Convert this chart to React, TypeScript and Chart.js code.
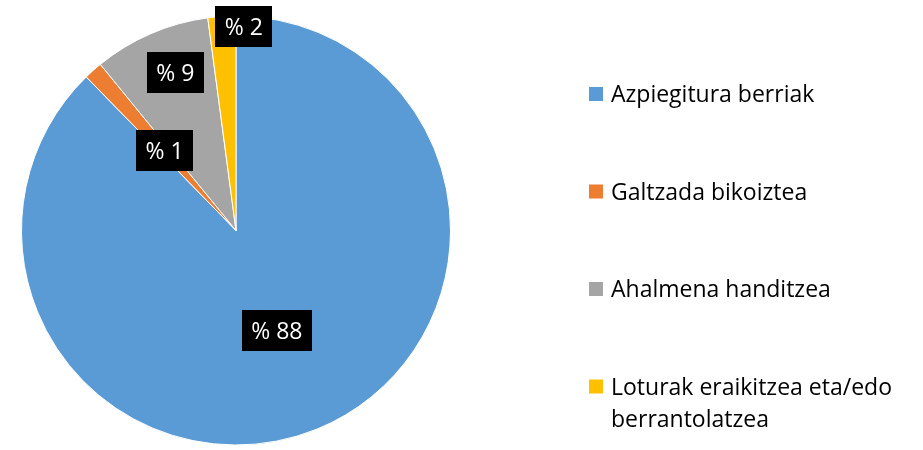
import React, { useEffect, useRef } from "react";
import { Chart, registerables } from "chart.js";

Chart.register(...registerables);

const categories = [
  "Azpiegitura berriak",
  "Galtzada bikoiztea",
  "Ahalmena handitzea",
  "Loturak eraikitzea eta/edo berrantolatzea",
];
const shares = [87.7, 1.4, 8.8, 2.1];
const colors = ["#5B9BD5", "#ED7D31", "#A5A5A5", "#FFC000"];

const FONT = '"Open Sans", sans-serif';
const FONT_SIZE = 23;

// label placement: fraction of radius, angular tweak (degrees, clockwise)
const labelPlacement = [
  { r: 0.505, da: 0 },
  { r: 0.5, da: 0 },
  { r: 0.79, da: 2.4 },
  { r: 0.95, da: 6 },
];

const valueLabelPlugin = {
  id: "valueLabels",
  afterDatasetsDraw(chart: any) {
    const ctx = chart.ctx;
    const meta = chart.getDatasetMeta(0);
    ctx.save();
    ctx.font = `${FONT_SIZE}px ${FONT}`;
    ctx.textBaseline = "alphabetic";
    ctx.textAlign = "center";
    meta.data.forEach((arc: any, i: number) => {
      const { x, y, startAngle, endAngle, outerRadius } = arc.getProps(
        ["x", "y", "startAngle", "endAngle", "outerRadius"],
        true
      );
      const p = labelPlacement[i];
      const a = (startAngle + endAngle) / 2 + (p.da * Math.PI) / 180;
      const cx = x + Math.cos(a) * outerRadius * p.r;
      const cy = y + Math.sin(a) * outerRadius * p.r;
      const text = "% " + Math.round(shares[i]);
      const w = ctx.measureText(text).width + 19;
      const h = 41;
      ctx.fillStyle = "#000";
      ctx.fillRect(Math.round(cx - w / 2), Math.round(cy - h / 2), Math.round(w), h);
      ctx.fillStyle = "#fff";
      ctx.fillText(text, cx, cy + 8.5);
    });
    ctx.restore();
  },
};

const legendPlugin = {
  id: "sideLegend",
  afterDraw(chart: any) {
    const ctx = chart.ctx;
    ctx.save();
    ctx.font = `${FONT_SIZE}px ${FONT}`;
    ctx.textBaseline = "alphabetic";
    ctx.textAlign = "left";
    const boxX = 589;
    const textX = 611;
    const maxW = 923 - textX - 8;
    const firstCenter = 94;
    const rowGap = 97.5;
    const lineH = 32;
    categories.forEach((label, i) => {
      const words = label.split(" ");
      const lines: string[] = [];
      let cur = "";
      words.forEach((wd) => {
        const test = cur ? cur + " " + wd : wd;
        if (cur && ctx.measureText(test).width > maxW) {
          lines.push(cur);
          cur = wd;
        } else cur = test;
      });
      if (cur) lines.push(cur);
      const cy = firstCenter + i * rowGap;
      ctx.fillStyle = colors[i];
      ctx.fillRect(boxX, cy - 7, 14, 14);
      ctx.fillStyle = "#000";
      lines.forEach((ln, k) => {
        ctx.fillText(ln, textX, cy + 8 + k * lineH);
      });
    });
    ctx.restore();
  },
};

export default function App() {
  const ref = useRef<HTMLCanvasElement>(null);
  useEffect(() => {
    document.body.style.margin = "0";
    const chart = new Chart(ref.current as HTMLCanvasElement, {
      type: "pie",
      data: {
        labels: categories,
        datasets: [
          {
            data: shares,
            backgroundColor: colors,
            borderColor: "#ffffff",
            borderWidth: 1,
          },
        ],
      },
      options: {
        responsive: false,
        animation: false,
        layout: { padding: { left: 21, top: 15.5, right: 472, bottom: 4.5 } },
        plugins: {
          legend: { display: false },
          tooltip: { enabled: false },
        },
      },
      plugins: [valueLabelPlugin, legendPlugin],
    });
    return () => chart.destroy();
  }, []);
  return (
    <div style={{ width: 923, height: 450, background: "#fff" }}>
      <canvas ref={ref} width={923} height={450} style={{ display: "block" }} />
    </div>
  );
}
